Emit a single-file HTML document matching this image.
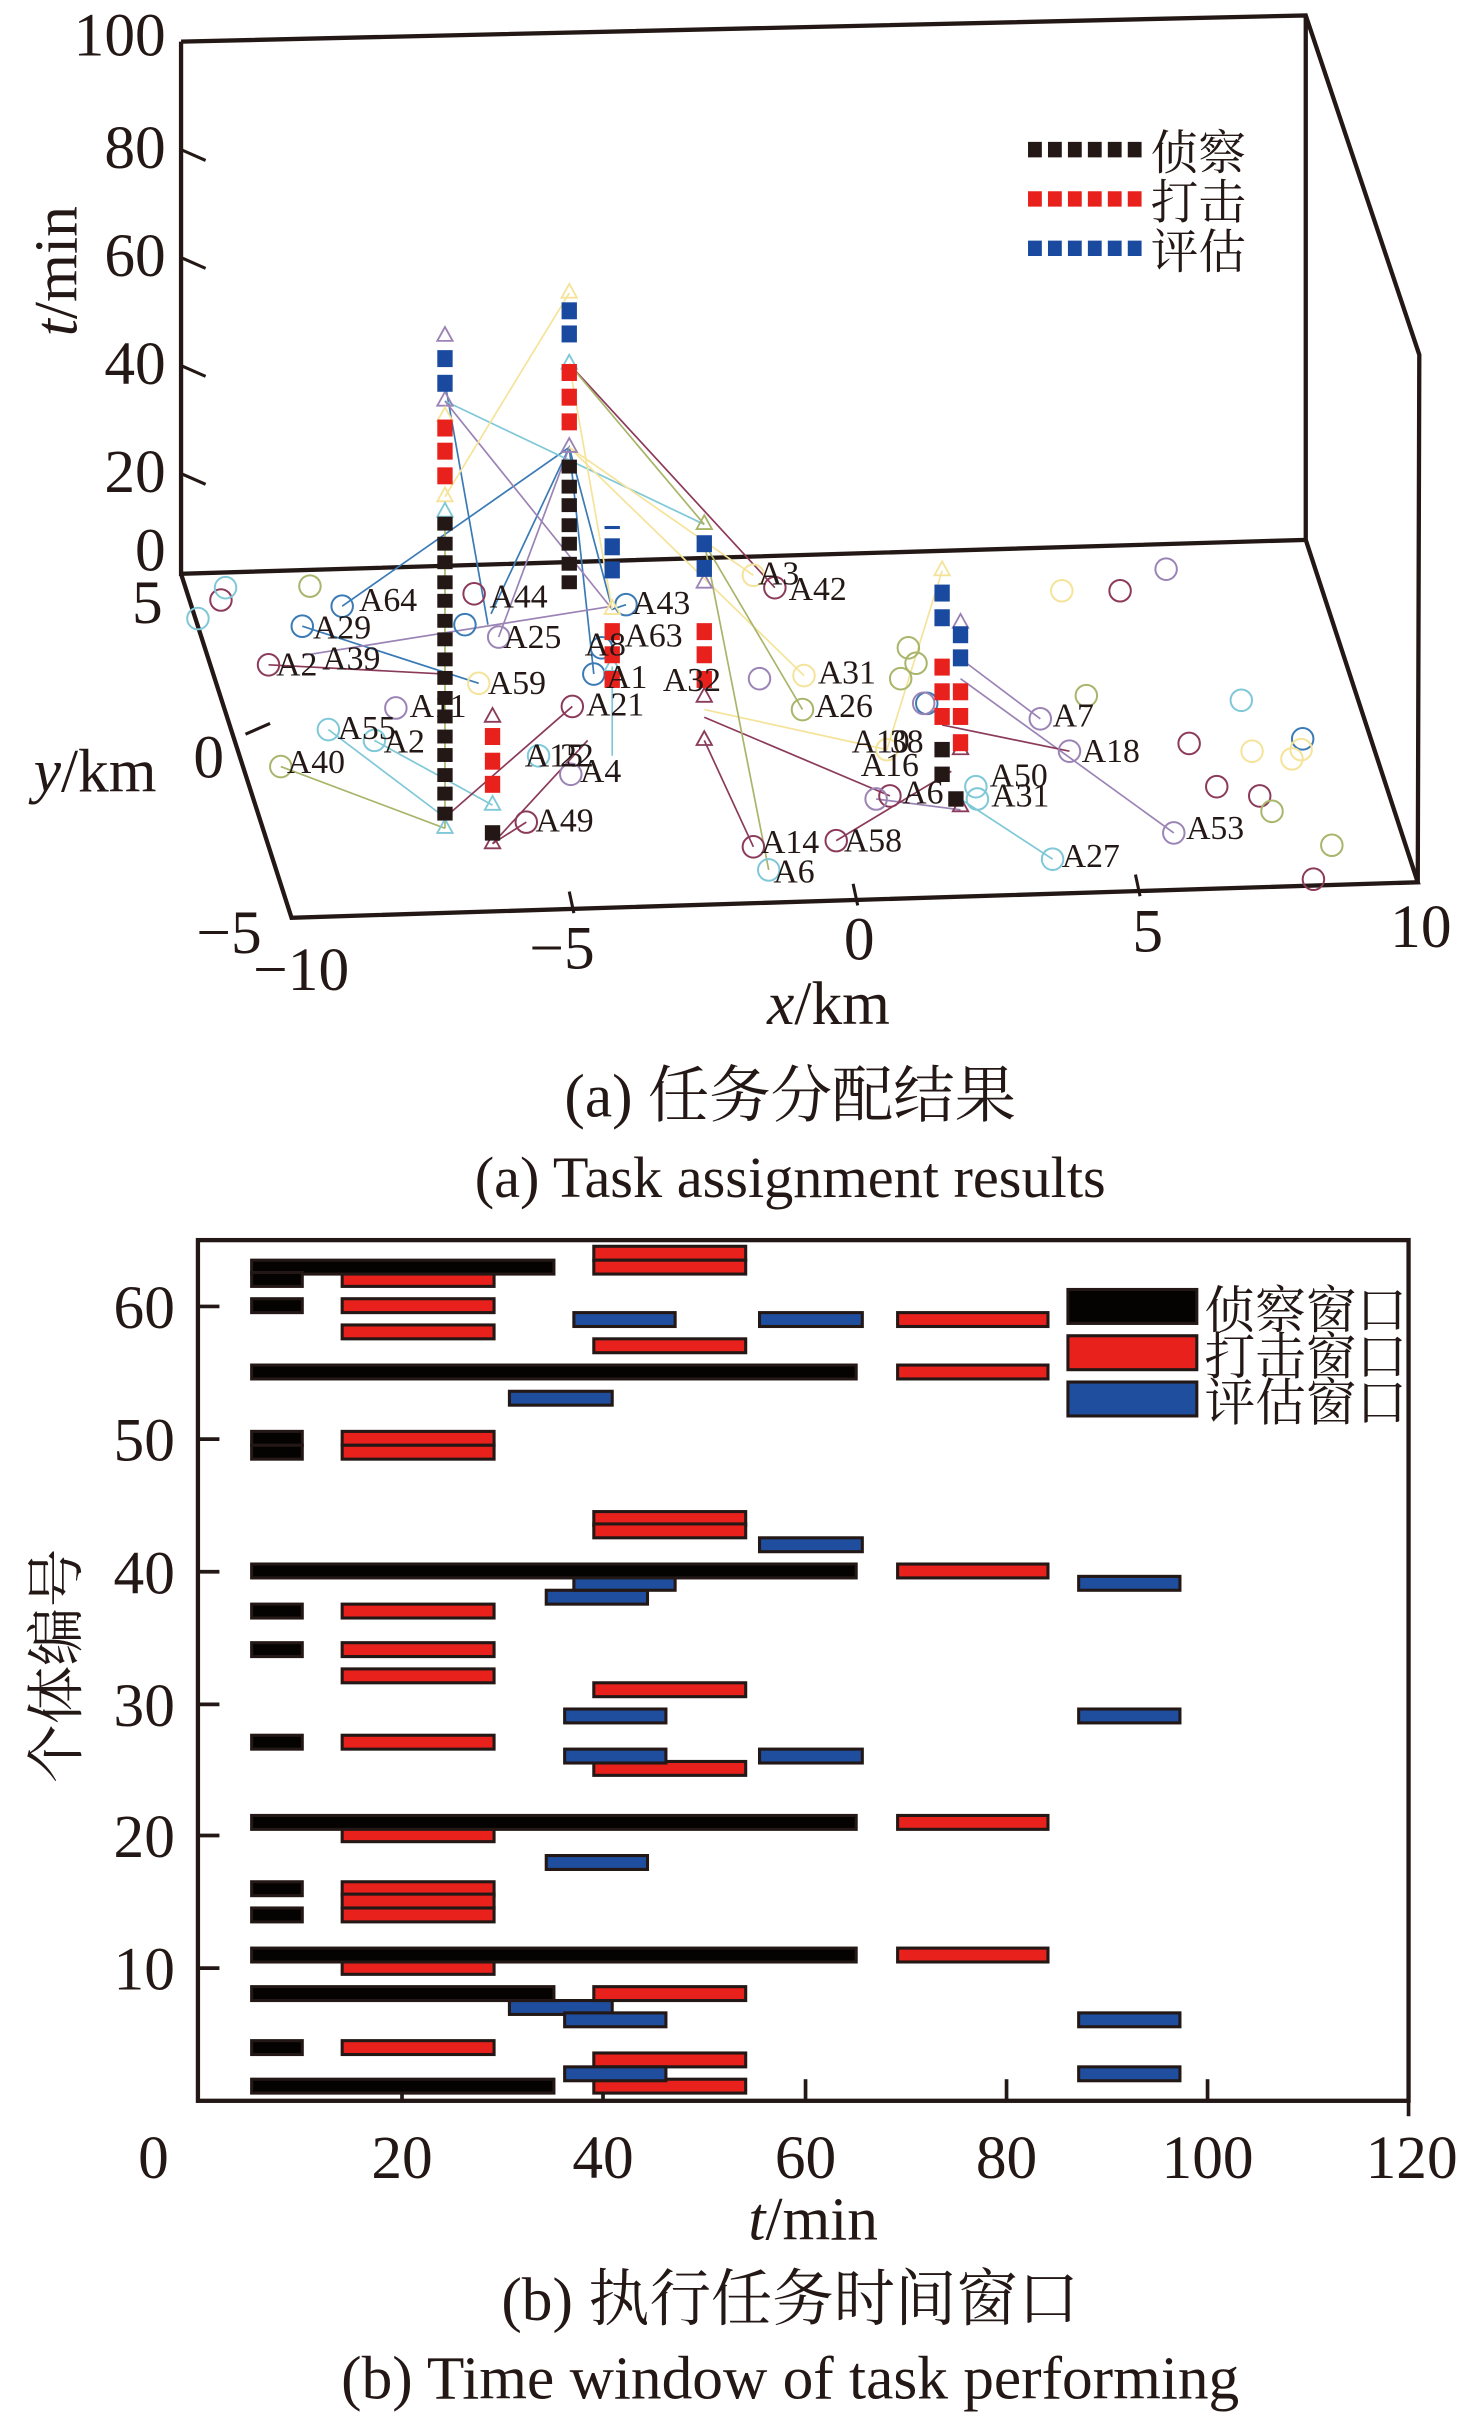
<!DOCTYPE html>
<html><head><meta charset="utf-8"><style>
html,body{margin:0;padding:0;background:#fff}
svg{display:block}
text{font-family:"Liberation Serif","Noto Serif CJK SC",serif;fill:#231815}
.k{fill:#050202;stroke:#231815;stroke-width:2}
.r{fill:#e8211d;stroke:#231815;stroke-width:2}
.b{fill:#1f4e9e;stroke:#231815;stroke-width:2}
.fr{fill:none;stroke:#231815;stroke-width:2.8}
.sk{fill:#231815}.sr{fill:#e8211d}.sb{fill:#1a4aa0}
.c{fill:none;stroke-width:1.3}
.l{fill:none;stroke-width:1.1}
.lab{font-size:22px}
</style></head><body>
<svg width="1473" height="2417" viewBox="0 0 960 1567" preserveAspectRatio="none" xmlns="http://www.w3.org/2000/svg">
<!-- ===== TOP 3D CHART ===== -->
<g class="fr">
<polyline points="118,27 851,10 925,230 924,572"/>
<polyline points="118,27 118,372 851,350 851,10"/>
<polyline points="851,350 924,572 190,595 118,372"/>
</g>
<g stroke="#231815" stroke-width="2">
<line x1="118" y1="97" x2="134" y2="104"/><line x1="118" y1="167" x2="134" y2="174"/>
<line x1="118" y1="237" x2="134" y2="244"/><line x1="118" y1="307" x2="134" y2="314"/>
<line x1="160" y1="476" x2="176" y2="469"/>
<line x1="371" y1="578" x2="374" y2="592"/><line x1="556" y1="573" x2="559" y2="587"/><line x1="740" y1="567" x2="743" y2="581"/>
</g>
<g font-size="40">
<text x="108" y="36" text-anchor="end">100</text>
<text x="108" y="109" text-anchor="end">80</text>
<text x="108" y="179" text-anchor="end">60</text>
<text x="108" y="249" text-anchor="end">40</text>
<text x="108" y="319" text-anchor="end">20</text>
<text x="108" y="370" text-anchor="end">0</text>
<text x="86" y="404">5</text>
<text x="126" y="504">0</text>
<text x="128" y="618">−5</text>
<text x="165" y="642">−10</text>
<text x="345" y="628">−5</text>
<text x="550" y="622">0</text>
<text x="738" y="617">5</text>
<text x="906" y="614">10</text>
<text x="22" y="513"><tspan font-style="italic">y</tspan>/km</text>
<text x="500" y="664"><tspan font-style="italic">x</tspan>/km</text>
<text transform="translate(50,218) rotate(-90)"><tspan font-style="italic">t</tspan>/min</text>
</g>
<!-- legend -->
<g>
<line x1="670" y1="97" x2="745" y2="97" stroke="#231815" stroke-width="10" stroke-dasharray="9,4"/>
<line x1="670" y1="129" x2="745" y2="129" stroke="#e8211d" stroke-width="10" stroke-dasharray="9,4"/>
<line x1="670" y1="161" x2="745" y2="161" stroke="#1a4aa0" stroke-width="10" stroke-dasharray="9,4"/>
<g font-size="31"><text x="750" y="110">侦察</text><text x="750" y="142">打击</text><text x="750" y="174">评估</text></g>
</g>
<!-- lines -->
<g class="l">
<polyline stroke="#3a7ab5" points="223,393 371,290"/>
<polyline stroke="#3a7ab5" points="290,248 318,405"/>
<polyline stroke="#3a7ab5" points="320,398 371,290 399,395 408,392"/>
<polyline stroke="#3a7ab5" points="197,406 312,443"/>
<polyline stroke="#3a7ab5" points="371,290 387,437"/>
<polyline stroke="#7fc8d8" points="290,260 459,340"/>
<polyline stroke="#7fc8d8" points="214,473 290,530"/>
<polyline stroke="#7fc8d8" points="244,480 321,522"/>
<polyline stroke="#7fc8d8" points="626,518 686,557"/>
<polyline stroke="#7fc8d8" points="399,432 399,490"/>
<polyline stroke="#9b84b5" points="290,260 399,395"/>
<polyline stroke="#9b84b5" points="325,413 371,290"/>
<polyline stroke="#9b84b5" points="197,425 399,393"/>
<polyline stroke="#9b84b5" points="626,427 678,466"/>
<polyline stroke="#9b84b5" points="626,440 765,540"/>
<polyline stroke="#9b84b5" points="571,518 626,525"/>
<polyline stroke="#f5e39a" points="290,322 371,190"/>
<polyline stroke="#f5e39a" points="371,236 399,395"/>
<polyline stroke="#f5e39a" points="371,290 524,438"/>
<polyline stroke="#f5e39a" points="371,290 491,373"/>
<polyline stroke="#f5e39a" points="459,460 578,486 614,370"/>
<polyline stroke="#8b3a5a" points="371,236 505,381"/>
<polyline stroke="#8b3a5a" points="459,465 580,516"/>
<polyline stroke="#8b3a5a" points="459,480 491,549"/>
<polyline stroke="#8b3a5a" points="290,530 373,458"/>
<polyline stroke="#8b3a5a" points="321,547 383,480"/>
<polyline stroke="#8b3a5a" points="321,547 343,533"/>
<polyline stroke="#8b3a5a" points="175,431 290,437"/>
<polyline stroke="#8b3a5a" points="614,470 697,487"/>
<polyline stroke="#8b3a5a" points="545,545 620,500"/>
<polyline stroke="#a8b56a" points="371,236 459,340"/>
<polyline stroke="#a8b56a" points="459,352 523,460"/>
<polyline stroke="#a8b56a" points="459,352 501,564"/>
<polyline stroke="#a8b56a" points="183,497 290,537"/>
<polyline stroke="#a8b56a" points="290,340 290,537"/>
</g>
<!-- circles -->
<g class="c">
<g stroke="#3a7ab5"><circle cx="223" cy="393" r="7"/><circle cx="408" cy="392" r="7"/><circle cx="197" cy="406" r="7"/><circle cx="387" cy="437" r="7"/><circle cx="303" cy="405" r="7"/><circle cx="604" cy="456" r="7"/><circle cx="849" cy="479" r="7"/><circle cx="392" cy="420" r="7"/></g>
<g stroke="#8b3a5a"><circle cx="309" cy="385" r="7"/><circle cx="175" cy="431" r="7"/><circle cx="373" cy="458" r="7"/><circle cx="343" cy="533" r="7"/><circle cx="505" cy="381" r="7"/><circle cx="580" cy="516" r="7"/><circle cx="491" cy="549" r="7"/><circle cx="545" cy="545" r="7"/><circle cx="144" cy="389" r="7"/><circle cx="730" cy="383" r="7"/><circle cx="775" cy="482" r="7"/><circle cx="793" cy="510" r="7"/><circle cx="821" cy="516" r="7"/><circle cx="856" cy="570" r="7"/></g>
<g stroke="#7fc8d8"><circle cx="129" cy="401" r="7"/><circle cx="147" cy="381" r="7"/><circle cx="214" cy="473" r="7"/><circle cx="244" cy="480" r="7"/><circle cx="351" cy="490" r="7"/><circle cx="636" cy="510" r="7"/><circle cx="637" cy="518" r="7"/><circle cx="686" cy="557" r="7"/><circle cx="501" cy="564" r="7"/><circle cx="809" cy="454" r="7"/></g>
<g stroke="#a8b56a"><circle cx="202" cy="380" r="7"/><circle cx="183" cy="497" r="7"/><circle cx="523" cy="460" r="7"/><circle cx="708" cy="451" r="7"/><circle cx="592" cy="420" r="7"/><circle cx="597" cy="430" r="7"/><circle cx="587" cy="440" r="7"/><circle cx="829" cy="526" r="7"/><circle cx="868" cy="548" r="7"/></g>
<g stroke="#f5e39a"><circle cx="312" cy="443" r="7"/><circle cx="491" cy="373" r="7"/><circle cx="524" cy="438" r="7"/><circle cx="578" cy="486" r="7"/><circle cx="692" cy="383" r="7"/><circle cx="816" cy="487" r="7"/><circle cx="842" cy="492" r="7"/><circle cx="848" cy="486" r="7"/></g>
<g stroke="#9b84b5"><circle cx="325" cy="413" r="7"/><circle cx="258" cy="459" r="7"/><circle cx="372" cy="502" r="7"/><circle cx="678" cy="466" r="7"/><circle cx="697" cy="487" r="7"/><circle cx="765" cy="540" r="7"/><circle cx="760" cy="369" r="7"/><circle cx="495" cy="440" r="7"/><circle cx="571" cy="518" r="7"/><circle cx="602" cy="456" r="7"/></g>
</g>
<!-- triangles -->
<g fill="none" stroke-width="1.2">
<path stroke="#9b84b5" d="M290,212l-5,9h10z M290,254l-5,9h10z M371,284l-5,9h10z M626,398l-5,9h10z M459,372l-5,9h10z"/>
<path stroke="#f5e39a" d="M290,264l-5,9h10z M290,316l-5,9h10z M371,184l-5,9h10z M399,389l-5,9h10z M614,364l-5,9h10z"/>
<path stroke="#7fc8d8" d="M290,326l-5,9h10z M290,531l-5,9h10z M371,230l-5,9h10z M399,426l-5,9h10z M321,516l-5,9h10z"/>
<path stroke="#8b3a5a" d="M321,459l-5,9h10z M321,541l-5,9h10z M459,446l-5,9h10z M459,474l-5,9h10z M626,517l-5,9h10z M626,480l-5,9h10z"/>
<path stroke="#a8b56a" d="M459,334l-5,9h10z"/>
</g>
<!-- stacks -->
<g class="sb"><rect x="285" y="227" width="10" height="11"/><rect x="285" y="243" width="10" height="11"/><rect x="366" y="196" width="10" height="11"/><rect x="366" y="211" width="10" height="11"/><rect x="394" y="349" width="10" height="11"/><rect x="394" y="364" width="10" height="11"/><rect x="394" y="341" width="10" height="2"/><rect x="454" y="347" width="10" height="11"/><rect x="454" y="363" width="10" height="11"/><rect x="609" y="379" width="10" height="11"/><rect x="609" y="395" width="10" height="11"/><rect x="621" y="406" width="10" height="11"/><rect x="621" y="421" width="10" height="11"/></g>
<g class="sr"><rect x="285" y="272" width="10" height="11"/><rect x="285" y="287" width="10" height="11"/><rect x="285" y="303" width="10" height="11"/><rect x="366" y="236" width="10" height="11"/><rect x="366" y="252" width="10" height="11"/><rect x="366" y="268" width="10" height="11"/><rect x="316" y="472" width="10" height="11"/><rect x="316" y="488" width="10" height="11"/><rect x="316" y="503" width="10" height="11"/><rect x="394" y="404" width="10" height="11"/><rect x="394" y="419" width="10" height="11"/><rect x="394" y="435" width="10" height="11"/><rect x="454" y="404" width="10" height="11"/><rect x="454" y="419" width="10" height="11"/><rect x="454" y="435" width="10" height="11"/><rect x="609" y="427" width="10" height="11"/><rect x="609" y="443" width="10" height="11"/><rect x="609" y="459" width="10" height="11"/><rect x="621" y="443" width="10" height="11"/><rect x="621" y="459" width="10" height="11"/><rect x="621" y="476" width="10" height="11"/></g>
<g class="sk">
<rect x="285" y="335" width="10" height="9"/><rect x="285" y="348" width="10" height="9"/><rect x="285" y="360" width="10" height="9"/><rect x="285" y="373" width="10" height="9"/><rect x="285" y="385" width="10" height="9"/><rect x="285" y="398" width="10" height="9"/><rect x="285" y="410" width="10" height="9"/><rect x="285" y="423" width="10" height="9"/><rect x="285" y="435" width="10" height="9"/><rect x="285" y="448" width="10" height="9"/><rect x="285" y="460" width="10" height="9"/><rect x="285" y="473" width="10" height="9"/><rect x="285" y="485" width="10" height="9"/><rect x="285" y="498" width="10" height="9"/><rect x="285" y="510" width="10" height="9"/><rect x="285" y="523" width="10" height="9"/>
<rect x="366" y="298" width="10" height="9"/><rect x="366" y="311" width="10" height="9"/><rect x="366" y="323" width="10" height="9"/><rect x="366" y="336" width="10" height="9"/><rect x="366" y="348" width="10" height="9"/><rect x="366" y="361" width="10" height="9"/><rect x="366" y="373" width="10" height="9"/>
<rect x="316" y="535" width="10" height="10"/><rect x="609" y="481" width="10" height="10"/><rect x="609" y="497" width="10" height="10"/><rect x="618" y="513" width="10" height="10"/>
</g>
<!-- labels -->
<g class="lab">
<text x="234" y="396">A64</text><text x="319" y="394">A44</text><text x="412" y="398">A43</text>
<text x="204" y="414">A29</text><text x="328" y="420">A25</text><text x="381" y="425">A8</text><text x="407" y="419">A63</text>
<text x="180" y="438">A2</text><text x="210" y="434">A39</text><text x="318" y="450">A59</text><text x="395" y="446">A1</text><text x="432" y="448">A32</text>
<text x="267" y="465">A11</text><text x="382" y="464">A21</text><text x="220" y="479">A55</text><text x="250" y="488">A2</text>
<text x="342" y="497">A15</text><text x="365" y="497">22</text><text x="378" y="507">A4</text><text x="187" y="501">A40</text><text x="349" y="539">A49</text>
<text x="494" y="379">A3</text><text x="514" y="389">A42</text><text x="533" y="443">A31</text><text x="531" y="465">A26</text>
<text x="555" y="488">A10</text><text x="580" y="488">38</text><text x="561" y="503">A16</text><text x="588" y="521">A6</text>
<text x="645" y="510">A50</text><text x="646" y="523">A31</text><text x="686" y="471">A7</text><text x="705" y="494">A18</text>
<text x="773" y="544">A53</text><text x="692" y="562">A27</text><text x="496" y="553">A14</text><text x="550" y="552">A58</text><text x="504" y="572">A6</text>
</g>
<g text-anchor="middle">
<text x="515" y="724" font-size="40">(a)  任务分配结果</text>
<text x="515" y="776" font-size="38">(a)  Task assignment results</text>
</g>

<!-- ===== BOTTOM CHART ===== -->
<rect x="129" y="804" width="789" height="558" fill="none" stroke="#231815" stroke-width="2.8"/>
<g stroke="#231815" stroke-width="2.4">
<line x1="129" y1="847" x2="143" y2="847"/><line x1="129" y1="933" x2="143" y2="933"/><line x1="129" y1="1019" x2="143" y2="1019"/>
<line x1="129" y1="1105" x2="143" y2="1105"/><line x1="129" y1="1190" x2="143" y2="1190"/><line x1="129" y1="1276" x2="143" y2="1276"/>
<line x1="262" y1="1362" x2="262" y2="1348"/><line x1="393" y1="1362" x2="393" y2="1348"/><line x1="525" y1="1362" x2="525" y2="1348"/>
<line x1="656" y1="1362" x2="656" y2="1348"/><line x1="787" y1="1362" x2="787" y2="1348"/><line x1="918" y1="1362" x2="918" y2="1372"/>
</g>
<g font-size="40">
<g text-anchor="end"><text x="114" y="861">60</text><text x="114" y="947">50</text><text x="114" y="1033">40</text><text x="114" y="1119">30</text><text x="114" y="1204">20</text><text x="114" y="1290">10</text></g>
<g text-anchor="middle"><text x="100" y="1412">0</text><text x="262" y="1412">20</text><text x="393" y="1412">40</text><text x="525" y="1412">60</text><text x="656" y="1412">80</text><text x="787" y="1412">100</text><text x="920" y="1412">120</text></g>
<text x="530" y="1452" text-anchor="middle"><tspan font-style="italic">t</tspan>/min</text>
<text transform="translate(50,1080) rotate(-90)" text-anchor="middle" font-size="38">个体编号</text>
<text x="515" y="1504" text-anchor="middle" font-size="40">(b)  执行任务时间窗口</text>
<text x="515" y="1555" text-anchor="middle" font-size="40">(b) Time window of task performing</text>
</g>
<!-- legend -->
<rect class="k" x="696" y="836" width="84" height="22"/>
<rect class="r" x="696" y="866" width="84" height="22"/>
<rect class="b" x="696" y="896" width="84" height="22"/>
<g font-size="33"><text x="785" y="861">侦察窗口</text><text x="785" y="891">打击窗口</text><text x="785" y="921">评估窗口</text></g>
<!-- bars -->
<g>
<rect class="r" x="387" y="808" width="99" height="9"/>
<rect class="r" x="387" y="817" width="99" height="9"/>
<rect class="r" x="223" y="825" width="99" height="9"/>
<rect class="k" x="164" y="817" width="197" height="9"/>
<rect class="k" x="164" y="825" width="33" height="9"/>
<rect class="k" x="164" y="842" width="33" height="9"/><rect class="r" x="223" y="842" width="99" height="9"/>
<rect class="b" x="374" y="851" width="66" height="9"/><rect class="b" x="495" y="851" width="67" height="9"/><rect class="r" x="585" y="851" width="98" height="9"/>
<rect class="r" x="223" y="859" width="99" height="9"/>
<rect class="r" x="387" y="868" width="99" height="9"/>
<rect class="k" x="164" y="885" width="394" height="9"/><rect class="r" x="585" y="885" width="98" height="9"/>
<rect class="b" x="332" y="902" width="67" height="9"/>
<rect class="k" x="164" y="928" width="33" height="9"/><rect class="r" x="223" y="928" width="99" height="9"/>
<rect class="k" x="164" y="937" width="33" height="9"/><rect class="r" x="223" y="937" width="99" height="9"/>
<rect class="r" x="387" y="980" width="99" height="9"/>
<rect class="r" x="387" y="988" width="99" height="9"/>
<rect class="b" x="495" y="997" width="67" height="9"/>
<rect class="b" x="356" y="1031" width="66" height="9"/>
<rect class="b" x="374" y="1022" width="66" height="9"/><rect class="b" x="703" y="1022" width="66" height="9"/>
<rect class="k" x="164" y="1014" width="394" height="9"/><rect class="r" x="585" y="1014" width="98" height="9"/>
<rect class="k" x="164" y="1040" width="33" height="9"/><rect class="r" x="223" y="1040" width="99" height="9"/>
<rect class="k" x="164" y="1065" width="33" height="9"/><rect class="r" x="223" y="1065" width="99" height="9"/>
<rect class="r" x="223" y="1082" width="99" height="9"/>
<rect class="r" x="387" y="1091" width="99" height="9"/>
<rect class="b" x="368" y="1108" width="66" height="9"/><rect class="b" x="703" y="1108" width="66" height="9"/>
<rect class="k" x="164" y="1125" width="33" height="9"/><rect class="r" x="223" y="1125" width="99" height="9"/>
<rect class="r" x="387" y="1142" width="99" height="9"/>
<rect class="b" x="368" y="1134" width="66" height="9"/><rect class="b" x="495" y="1134" width="67" height="9"/>
<rect class="r" x="223" y="1185" width="99" height="9"/>
<rect class="k" x="164" y="1177" width="394" height="9"/><rect class="r" x="585" y="1177" width="98" height="9"/>
<rect class="b" x="356" y="1203" width="66" height="9"/>
<rect class="k" x="164" y="1220" width="33" height="9"/><rect class="r" x="223" y="1220" width="99" height="9"/>
<rect class="r" x="223" y="1228" width="99" height="9"/>
<rect class="k" x="164" y="1237" width="33" height="9"/><rect class="r" x="223" y="1237" width="99" height="9"/>
<rect class="r" x="223" y="1271" width="99" height="9"/>
<rect class="k" x="164" y="1263" width="394" height="9"/><rect class="r" x="585" y="1263" width="98" height="9"/>
<rect class="b" x="332" y="1297" width="67" height="9"/>
<rect class="k" x="164" y="1288" width="197" height="9"/><rect class="r" x="387" y="1288" width="99" height="9"/>
<rect class="b" x="368" y="1305" width="66" height="9"/><rect class="b" x="703" y="1305" width="66" height="9"/>
<rect class="k" x="164" y="1323" width="33" height="9"/><rect class="r" x="223" y="1323" width="99" height="9"/>
<rect class="r" x="387" y="1331" width="99" height="9"/>
<rect class="r" x="387" y="1348" width="99" height="9"/>
<rect class="b" x="368" y="1340" width="66" height="9"/><rect class="b" x="703" y="1340" width="66" height="9"/>
<rect class="k" x="164" y="1348" width="197" height="9"/>
</g>
</svg>
</body></html>
